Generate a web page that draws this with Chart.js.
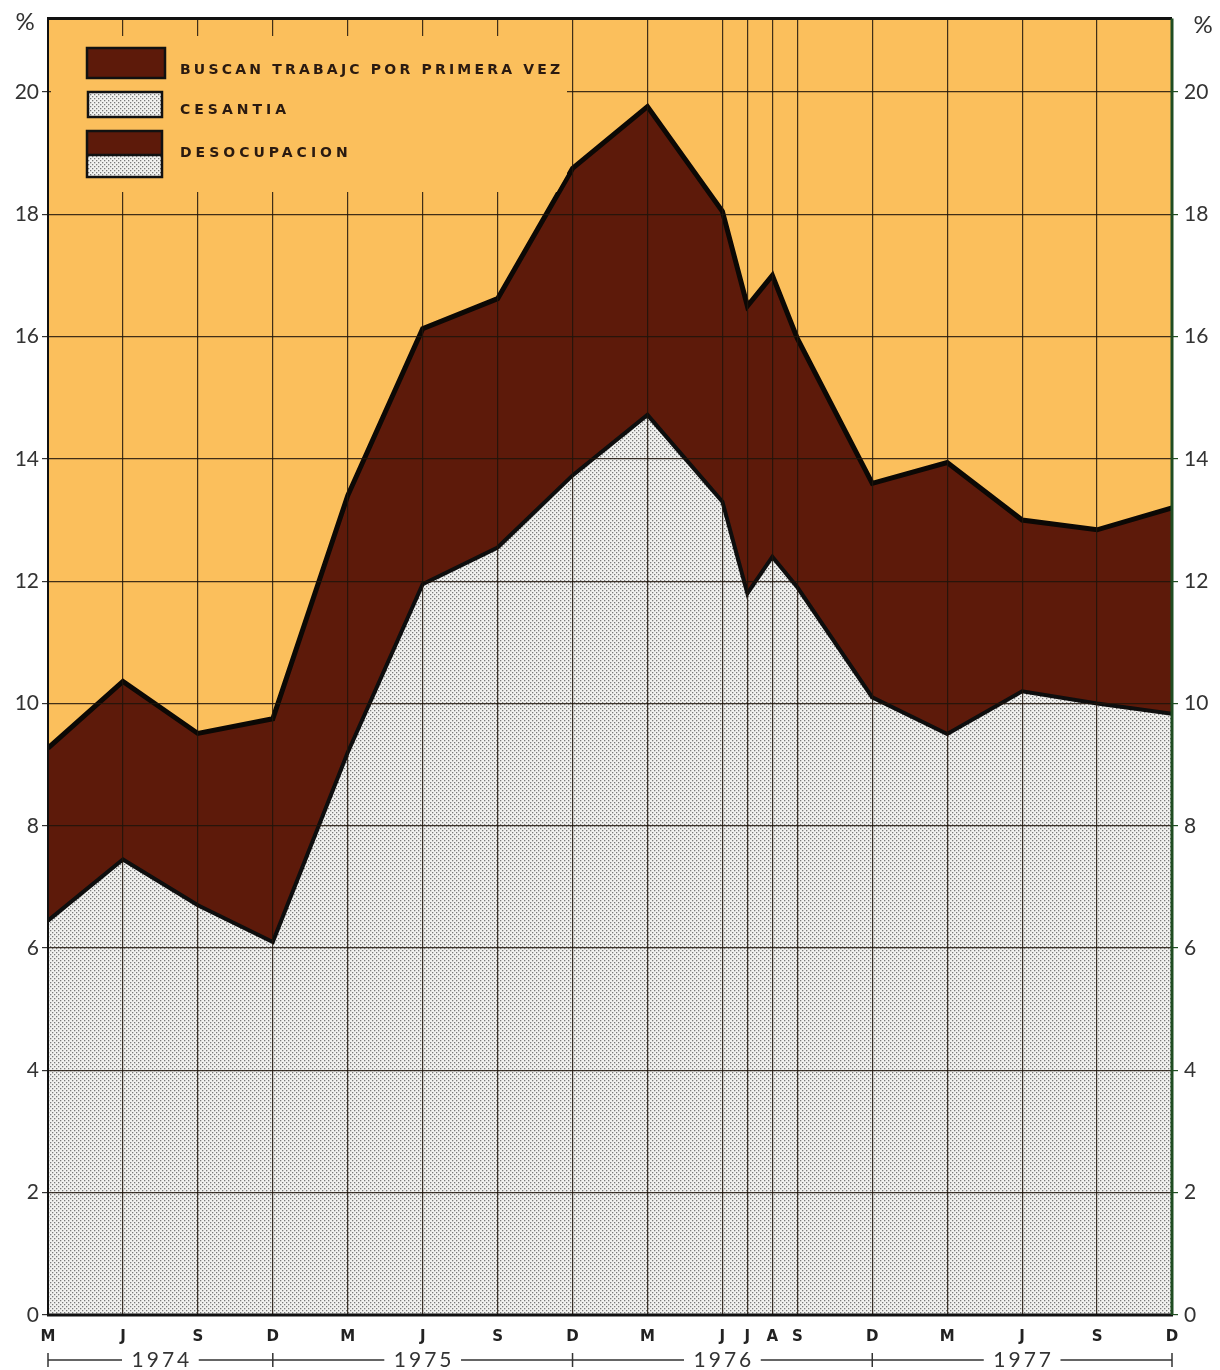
<!DOCTYPE html>
<html>
<head>
<meta charset="utf-8">
<script src="https://cdn.jsdelivr.net/npm/chart.js@4/dist/chart.umd.min.js"></script>
<style>
  html, body { margin: 0; padding: 0; background: #ffffff; }
  #c { display: block; }
</style>
</head>
<body>
<canvas id="c" width="1220" height="1370" style="width:1220px;height:1370px"></canvas>
<script>
// ---- Data (months counted from March 1974) ----
const months       = [0, 3, 6, 9, 12, 15, 18, 21, 24, 27, 28, 29, 30, 33, 36, 39, 42, 45];
const monthLabels  = ['M','J','S','D','M','J','S','D','M','J','J','A','S','D','M','J','S','D'];
const cesantia     = [6.45, 7.45, 6.7, 6.1, 9.2, 11.95, 12.55, 13.73, 14.72, 13.3, 11.8, 12.4, 11.9, 10.1, 9.5, 10.2, 10.0, 9.83];
const desocupacion = [9.27, 10.36, 9.51, 9.75, 13.4, 16.13, 16.62, 18.75, 19.76, 18.05, 16.5, 17.0, 15.97, 13.6, 13.94, 13.0, 12.84, 13.2];
const yTicks       = [0, 2, 4, 6, 8, 10, 12, 14, 16, 18, 20];
const yearLabels   = ['1974', '1975', '1976', '1977'];
const yearBounds   = [0, 9, 21, 33, 45];
const legendLabels = ['BUSCAN TRABAJC POR PRIMERA VEZ', 'CESANTIA', 'DESOCUPACION'];

// ---- Styles ----
const ORANGE = '#fbbf5c';
const BROWN  = '#5d1a0a';
const GRID   = 'rgba(30,20,10,0.85)';

function makeDots() {
  const c = document.createElement('canvas');
  c.width = 4; c.height = 4;
  const g = c.getContext('2d');
  g.fillStyle = '#f2f2f0';
  g.fillRect(0, 0, 4, 4);
  g.fillStyle = '#7a7a7a';
  g.fillRect(0, 0, 1.3, 1.3);
  g.fillRect(2, 2, 1.3, 1.3);
  return g.createPattern(c, 'repeat');
}
const dots = makeDots();

const bgPlugin = {
  id: 'bg',
  beforeDraw(chart) {
    const { ctx, chartArea: a } = chart;
    ctx.save();
    ctx.fillStyle = '#ffffff';
    ctx.fillRect(0, 0, chart.width, chart.height);
    ctx.fillStyle = ORANGE;
    ctx.fillRect(a.left, a.top, a.right - a.left, a.bottom - a.top);
    ctx.restore();
  }
};

const decorPlugin = {
  id: 'decor',
  afterDraw(chart) {
    const { ctx, chartArea: a } = chart;
    const xs = chart.scales.x;
    const ys = chart.scales.y;
    ctx.save();

    // Legend panel (covers grid lines), clipped to the area above the top line
    ctx.save();
    ctx.beginPath();
    ctx.moveTo(a.left, a.top);
    months.forEach((m, i) => {
      ctx.lineTo(xs.getPixelForValue(m), ys.getPixelForValue(desocupacion[i]) - 4);
    });
    ctx.lineTo(a.right, a.top);
    ctx.closePath();
    ctx.clip();
    ctx.fillStyle = ORANGE;
    ctx.fillRect(51, 36, 516, 156);
    ctx.restore();

    function box(x, y, w, h, fill) {
      ctx.fillStyle = fill;
      ctx.fillRect(x, y, w, h);
    }
    ctx.lineWidth = 2.5; ctx.strokeStyle = '#111';
    box(87, 48, 78, 30, BROWN);
    ctx.strokeRect(87, 48, 78, 30);
    box(88, 92, 74, 25, dots);
    ctx.strokeRect(88, 92, 74, 25);
    box(87, 131, 75, 24, BROWN);
    box(87, 155, 75, 22, dots);
    ctx.strokeRect(87, 131, 75, 46);
    ctx.beginPath(); ctx.moveTo(87, 155); ctx.lineTo(162, 155); ctx.stroke();

    ctx.fillStyle = '#2a1a10';
    ctx.font = 'bold 14px "DejaVu Sans"';
    ctx.textBaseline = 'middle';
    ctx.textAlign = 'left';
    ctx.letterSpacing = '3.2px';
    ctx.fillText(legendLabels[0], 180, 70);
    ctx.letterSpacing = '4px';
    ctx.fillText(legendLabels[1], 180, 110);
    ctx.fillText(legendLabels[2], 180, 153);
    ctx.letterSpacing = '0px';

    // Frame
    ctx.strokeStyle = '#111';
    ctx.lineWidth = 3;
    ctx.beginPath(); ctx.moveTo(a.left - 1, a.top); ctx.lineTo(a.right, a.top); ctx.stroke();
    ctx.beginPath(); ctx.moveTo(a.left - 1, a.bottom); ctx.lineTo(a.right + 1, a.bottom); ctx.stroke();
    ctx.lineWidth = 2;
    ctx.beginPath(); ctx.moveTo(a.left, a.top); ctx.lineTo(a.left, a.bottom); ctx.stroke();
    ctx.strokeStyle = '#1f4d22';
    ctx.lineWidth = 3;
    ctx.beginPath(); ctx.moveTo(a.right, a.top); ctx.lineTo(a.right, a.bottom); ctx.stroke();

    // % signs
    ctx.fillStyle = '#333';
    ctx.font = '24px "Lato"';
    ctx.textAlign = 'center';
    ctx.fillText('%', 25, 22);
    ctx.fillText('%', 1203, 25);

    // Year row
    const yy = 1360;
    ctx.strokeStyle = '#333';
    ctx.lineWidth = 1.3;
    ctx.font = '21px "Lato"';
    ctx.letterSpacing = '3px';
    ctx.textAlign = 'center';
    ctx.textBaseline = 'middle';
    for (let i = 0; i < yearLabels.length; i++) {
      const x0 = xs.getPixelForValue(yearBounds[i]);
      const x1 = xs.getPixelForValue(yearBounds[i + 1]);
      const cx = (x0 + x1) / 2;
      const tw = ctx.measureText(yearLabels[i]).width;
      ctx.beginPath();
      ctx.moveTo(x0, yy); ctx.lineTo(cx - tw / 2 - 8, yy);
      ctx.moveTo(cx + tw / 2 + 8, yy); ctx.lineTo(x1, yy);
      ctx.stroke();
      ctx.fillStyle = '#333';
      ctx.fillText(yearLabels[i], cx + 1.5, yy);
    }
    ctx.letterSpacing = '0px';
    ctx.lineWidth = 1.5;
    yearBounds.forEach(b => {
      const x = xs.getPixelForValue(b);
      ctx.beginPath(); ctx.moveTo(x, yy - 7); ctx.lineTo(x, yy + 7); ctx.stroke();
    });
    ctx.restore();
  }
};

new Chart(document.getElementById('c'), {
  type: 'line',
  data: {
    datasets: [
      {
        label: legendLabels[1],
        data: months.map((m, i) => ({ x: m, y: cesantia[i] })),
        fill: 'origin',
        backgroundColor: dots,
        borderColor: '#0e0e0e',
        borderWidth: 4,
        pointRadius: 0,
        tension: 0
      },
      {
        label: legendLabels[2],
        data: months.map((m, i) => ({ x: m, y: desocupacion[i] })),
        fill: '-1',
        backgroundColor: BROWN,
        borderColor: '#0b0805',
        borderWidth: 5,
        pointRadius: 0,
        tension: 0
      }
    ]
  },
  options: {
    responsive: false,
    animation: false,
    devicePixelRatio: 1,
    layout: { padding: { top: 13, left: 0, right: 0, bottom: 0 } },
    plugins: { legend: { display: false }, tooltip: { enabled: false } },
    scales: {
      x: {
        type: 'linear', min: 0, max: 45, position: 'bottom',
        afterBuildTicks: s => { s.ticks = months.map(v => ({ value: v })); },
        afterFit: s => { s.height = 55; },
        ticks: {
          autoSkip: false, maxRotation: 0, minRotation: 0,
          callback: (v, i) => monthLabels[i],
          font: { family: 'DejaVu Sans', size: 15, weight: 'bold' },
          color: '#222', padding: 13
        },
        grid: { z: 1, color: GRID, lineWidth: 1.2, drawTicks: false },
        border: { display: false }
      },
      y: {
        type: 'linear', min: 0, max: 21.2, position: 'left',
        afterBuildTicks: s => { s.ticks = yTicks.map(v => ({ value: v })); },
        afterFit: s => { s.width = 48; },
        ticks: {
          callback: v => String(v),
          font: { family: 'Lato', size: 21 },
          color: '#333', padding: 3
        },
        grid: { z: 1, color: GRID, lineWidth: 1.2, tickLength: 6, tickColor: '#333' },
        border: { display: false }
      },
      y2: {
        type: 'linear', min: 0, max: 21.2, position: 'right',
        afterBuildTicks: s => { s.ticks = yTicks.map(v => ({ value: v })); },
        afterFit: s => { s.width = 48; },
        ticks: {
          callback: v => String(v),
          font: { family: 'Lato', size: 21 },
          color: '#333', padding: 6
        },
        grid: { z: 1, drawOnChartArea: false, tickLength: 6, tickColor: '#1f4d22', lineWidth: 1.2 },
        border: { display: false }
      }
    }
  },
  plugins: [bgPlugin, decorPlugin]
});
</script>
</body>
</html>
